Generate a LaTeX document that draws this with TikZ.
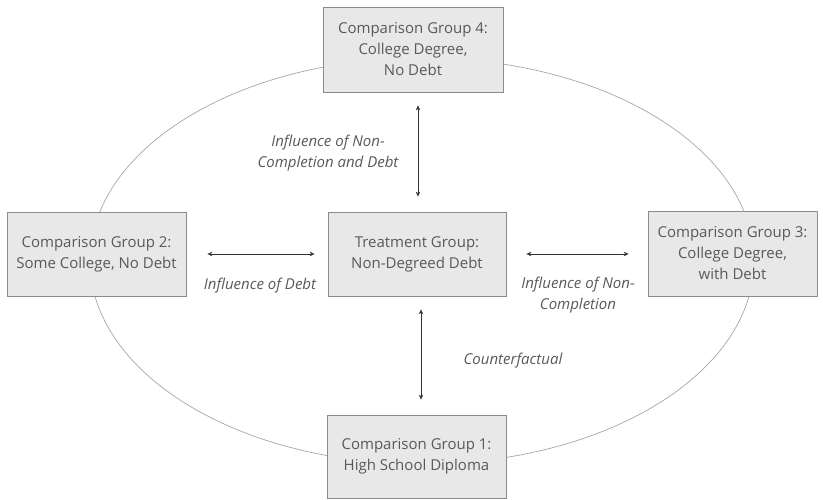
\documentclass[tikz,border=0pt]{standalone}
\usepackage{fontspec}
\setmainfont{Open Sans}
\usetikzlibrary{arrows.meta}
\definecolor{boxfill}{HTML}{E8E8E8}
\definecolor{boxline}{HTML}{8C8C8C}
\definecolor{txt}{HTML}{595959}
\definecolor{ell}{HTML}{A6A6A6}
\begin{document}
\begin{tikzpicture}[x=1pt,y=-1pt,
  grp/.style={draw=boxline,fill=boxfill,line width=0.8pt,text=txt,align=center,
    font=\fontsize{15}{21}\selectfont,inner sep=0pt},
  lbl/.style={text=txt,align=center,font=\fontsize{15}{21}\selectfont\itshape},
  conn/.style={line width=0.6pt,draw=black!80,{Stealth[length=5pt,width=4.5pt]}-{Stealth[length=5pt,width=4.5pt]}}]
\useasboundingbox (0,0) rectangle (823,500);
\draw[ell,line width=0.7pt] (422,261) ellipse [x radius=332,y radius=203];
\node[grp,minimum width=180pt,minimum height=85pt] (g4) at (413,49.5) {Comparison Group 4:\\College Degree,\\No Debt};
\node[grp,minimum width=179pt,minimum height=84pt] (g2) at (96.5,254) {Comparison Group 2:\\Some College, No Debt};
\node[grp,minimum width=169pt,minimum height=85pt] (g3) at (732.5,253.5) {Comparison Group 3:\\College Degree,\\with Debt};
\node[grp,minimum width=178pt,minimum height=84pt] (t) at (417,254) {Treatment Group:\\Non-Degreed Debt};
\node[grp,minimum width=179pt,minimum height=83pt] (g1) at (416.5,456.5) {Comparison Group 1:\\High School Diploma};
\draw[conn,shorten <=13pt,shorten >=15pt] ([xshift=5pt]g4.south) -- ([xshift=1pt]t.north);
\draw[conn,shorten <=21pt,shorten >=13pt] (g2.east) -- (t.west);
\draw[conn,shorten <=20pt,shorten >=19pt] (t.east) -- (g3.west |- t.east);
\draw[conn,shorten <=13pt,shorten >=15pt] ([xshift=4pt]t.south) -- ([xshift=4.5pt]g1.north);
\node[lbl] (l4) at (328,153) {Influence of Non-\\Completion and Debt};
\node[lbl] (l2) at (260,286) {Influence of Debt};
\node[lbl] (l3) at (578,295) {Influence of Non-\\Completion};
\node[lbl] (l1) at (513,361) {Counterfactual};
\end{tikzpicture}
\end{document}
